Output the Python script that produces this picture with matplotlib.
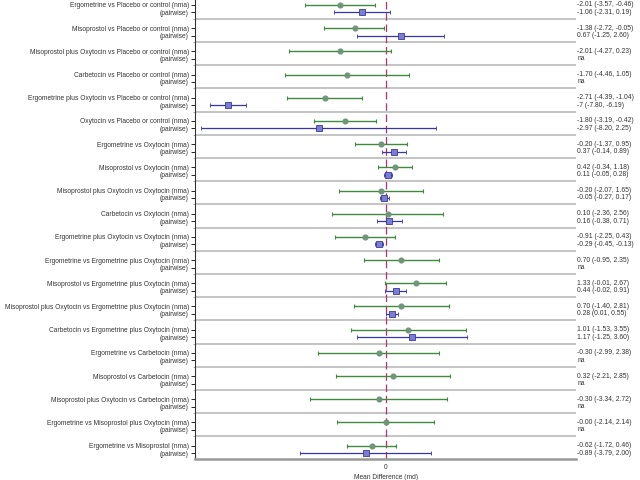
import matplotlib
matplotlib.use("Agg")
import matplotlib.pyplot as plt

# comparisons, top to bottom
comparisons = [
    "Ergometrine vs Placebo or control",
    "Misoprostol vs Placebo or control",
    "Misoprostol plus Oxytocin vs Placebo or control",
    "Carbetocin vs Placebo or control",
    "Ergometrine plus Oxytocin vs Placebo or control",
    "Oxytocin vs Placebo or control",
    "Ergometrine vs Oxytocin",
    "Misoprostol vs Oxytocin",
    "Misoprostol plus Oxytocin vs Oxytocin",
    "Carbetocin vs Oxytocin",
    "Ergometrine plus Oxytocin vs Oxytocin",
    "Ergometrine vs Ergometrine plus Oxytocin",
    "Misoprostol vs Ergometrine plus Oxytocin",
    "Misoprostol plus Oxytocin vs Ergometrine plus Oxytocin",
    "Carbetocin vs Ergometrine plus Oxytocin",
    "Ergometrine vs Carbetocin",
    "Misoprostol vs Carbetocin",
    "Misoprostol plus Oxytocin vs Carbetocin",
    "Ergometrine vs Misoprostol plus Oxytocin",
    "Ergometrine vs Misoprostol",
]

# network meta-analysis estimates
nma_est = [-2.01, -1.38, -2.01, -1.70, -2.71, -1.80, -0.20, 0.42, -0.20, 0.10,
           -0.91, 0.70, 1.33, 0.70, 1.01, -0.30, 0.32, -0.30, -0.0, -0.62]
nma_lo = [-3.57, -2.72, -4.27, -4.46, -4.39, -3.19, -1.37, -0.34, -2.07, -2.36,
          -2.25, -0.95, -0.01, -1.40, -1.53, -2.99, -2.21, -3.34, -2.14, -1.72]
nma_hi = [-0.46, -0.05, 0.23, 1.05, -1.04, -0.42, 0.95, 1.18, 1.65, 2.56,
          0.43, 2.35, 2.67, 2.81, 3.55, 2.38, 2.85, 2.72, 2.14, 0.46]

# pairwise estimates (None = not available); -7 is printed as a whole number
pw_est = [-1.06, 0.67, None, None, -7, -2.97, 0.37, 0.11, -0.05, 0.16,
          -0.29, None, 0.44, 0.28, 1.17, None, None, None, None, -0.89]
pw_lo = [-2.31, -1.25, None, None, -7.80, -8.20, -0.14, -0.05, -0.27, -0.38,
         -0.45, None, -0.02, 0.01, -1.25, None, None, None, None, -3.79]
pw_hi = [0.19, 2.60, None, None, -6.19, 2.25, 0.89, 0.28, 0.17, 0.71,
         -0.13, None, 0.91, 0.55, 3.60, None, None, None, None, 2.00]


def fmt(v):
    if isinstance(v, int):
        return str(v)
    return f"{v:.2f}"


plt.rcParams['font.family'] = ['Liberation Sans', 'DejaVu Sans']

fig = plt.figure(figsize=(6.4, 4.8), dpi=100)
ax = fig.add_axes([0.305, 0.044, 0.595, 0.956])

green = '#3f8a3f'
blue = '#3636a8'
fs = 4.8
off = 0.32

yticks = []
ylabels = []
for i, name in enumerate(comparisons):
    y1 = i
    y2 = i + off
    yticks += [y1, y2]
    ylabels += [name + " (nma)", "(pairwise)"]

    ax.errorbar(nma_est[i], y1,
                xerr=[[nma_est[i] - nma_lo[i]], [nma_hi[i] - nma_est[i]]],
                fmt='o', color=green, ecolor=green, elinewidth=1.0,
                capsize=1.6, capthick=0.8, markersize=3.4,
                markerfacecolor='#6f9679', markeredgecolor='#6f9679')
    txt = f"{fmt(nma_est[i])} ({fmt(nma_lo[i])}, {fmt(nma_hi[i])})"
    ax.text(1.003, y1, txt, transform=ax.get_yaxis_transform(),
            va='center', ha='left', fontsize=fs + 0.1, color='#333333')

    if pw_est[i] is not None:
        ax.errorbar(pw_est[i], y2,
                    xerr=[[pw_est[i] - pw_lo[i]], [pw_hi[i] - pw_est[i]]],
                    fmt='s', color=blue, ecolor=blue, elinewidth=0.9,
                    capsize=1.6, capthick=0.8, markersize=3.8,
                    markerfacecolor='#7d7dd0', markeredgecolor=blue,
                    markeredgewidth=0.6)
        txt = f"{fmt(pw_est[i])} ({fmt(pw_lo[i])}, {fmt(pw_hi[i])})"
    else:
        txt = "na"
    ax.text(1.003, y2, txt, transform=ax.get_yaxis_transform(),
            va='center', ha='left', fontsize=fs + 0.1, color='#333333')

    if i < len(comparisons) - 1:
        ax.axhline(i + 0.6, color='#b4b4b4', lw=1.1, zorder=0)

ax.axvline(0, color='#b8306a', lw=0.9, ls=(0, (6, 3)), zorder=1)

ax.set_xlim(-8.45, 8.45)
ax.set_ylim(len(comparisons) - 0.43, -0.215)
ax.set_yticks(yticks)
ax.set_yticklabels(ylabels, fontsize=fs, color='#333333')
ax.set_yticks([i + 0.6 for i in range(len(comparisons) - 1)], minor=True)
ax.tick_params(axis='y', which='minor', length=1.5, width=0.5, color='#888888')
ax.tick_params(axis='y', which='major', length=3, width=0.6, pad=1.5)
ax.set_xticks([0])
ax.tick_params(axis='x', length=0, labelsize=fs, labelcolor='#333333', pad=4)
ax.set_xlabel("Mean Difference (md)", fontsize=fs, color='#333333', labelpad=1.5)

for s in ['top', 'right']:
    ax.spines[s].set_visible(False)
ax.spines['left'].set_color('#333333')
ax.spines['left'].set_linewidth(0.8)
ax.spines['bottom'].set_color('#999999')
ax.spines['bottom'].set_linewidth(1.8)

fig.savefig("out.png", dpi=100)
